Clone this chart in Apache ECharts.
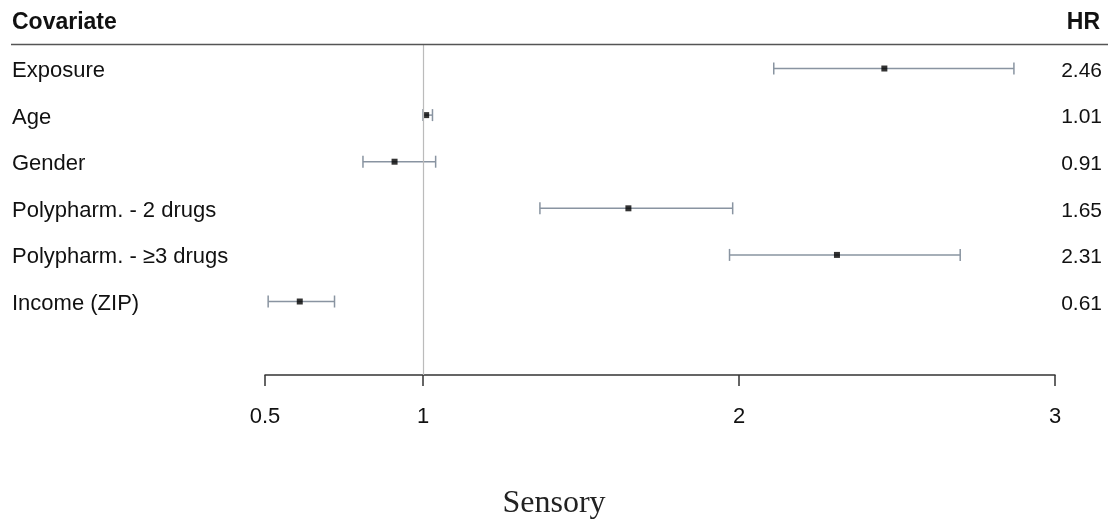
<!DOCTYPE html>
<html>
<head>
<meta charset="utf-8">
<script src="https://cdn.jsdelivr.net/npm/echarts@6/dist/echarts.min.js"></script>
<style>
html,body{margin:0;padding:0;background:#fff;}
#chart{width:1108px;height:519px;}
</style>
</head>
<body>
<div id="chart"></div>
<script>
const covariates = ["Exposure", "Age", "Gender", "Polypharm. - 2 drugs", "Polypharm. - \u22653 drugs", "Income (ZIP)"];
const hr = [2.46, 1.01, 0.91, 1.65, 2.31, 0.61];
const ciLow = [2.11, 1.00, 0.81, 1.37, 1.97, 0.51];
const ciHigh = [2.87, 1.03, 1.04, 1.98, 2.70, 0.72];
const xTicks = [0.5, 1, 2, 3];
const rowIdx = covariates.map((_, i) => i);

const chart = echarts.init(document.getElementById('chart'), null, {renderer: 'canvas'});

const sans = "'Liberation Sans', Arial, sans-serif";

const option = {
  animation: false,
  backgroundColor: '#ffffff',
  title: {
    text: 'Sensory',
    left: 'center',
    top: 483,
    textStyle: {fontFamily: "'Liberation Serif', 'DejaVu Serif', serif", fontSize: 32, fontWeight: 'normal', color: '#222'}
  },
  graphic: [
    {type: 'text', left: 12, top: 11, style: {text: 'Covariate', font: "bold 23px " + sans, fill: '#111'}},
    {type: 'text', right: 8, top: 11, style: {text: 'HR', font: "bold 23px " + sans, fill: '#111'}},
    {type: 'line', shape: {x1: 11, y1: 44.5, x2: 1108, y2: 44.5}, style: {stroke: '#555', lineWidth: 1.5}, z: 10}
  ],
  grid: {left: 265, right: 53, top: 44, bottom: 144},
  xAxis: {
    type: 'value',
    min: 0.5,
    max: 3,
    axisLine: {show: true, onZero: false, lineStyle: {color: '#333', width: 1.5}},
    axisTick: {show: true, length: 11, inside: false, customValues: xTicks, lineStyle: {color: '#333', width: 1.5}},
    axisLabel: {customValues: xTicks, margin: 31, fontFamily: sans, fontSize: 22, color: '#111',
      formatter: v => String(v)},
    splitLine: {show: false}
  },
  yAxis: [
    {
      type: 'value', inverse: true, min: -0.526, max: 6.577, position: 'left',
      axisLine: {show: false}, axisTick: {show: false}, splitLine: {show: false},
      axisLabel: {customValues: rowIdx, align: 'left', margin: 253, fontFamily: sans, fontSize: 22, color: '#111',
        verticalAlign: 'top', lineHeight: 5,
        formatter: v => covariates[Math.round(v)] || ''}
    },
    {
      type: 'value', inverse: true, min: -0.526, max: 6.577, position: 'right',
      axisLine: {show: false}, axisTick: {show: false}, splitLine: {show: false},
      axisLabel: {customValues: rowIdx, align: 'right', margin: 47, fontFamily: sans, fontSize: 21, color: '#111',
        verticalAlign: 'top', lineHeight: 5,
        formatter: v => { const i = Math.round(v); return hr[i] !== undefined ? hr[i].toFixed(2) : ''; }}
    }
  ],
  series: [
    {
      type: 'custom',
      data: rowIdx.map(i => [i, ciLow[i], ciHigh[i]]),
      encode: {x: [1, 2], y: 0},
      renderItem: function (params, api) {
        const i = api.value(0);
        const p1 = api.coord([api.value(1), i]);
        const p2 = api.coord([api.value(2), i]);
        const h = 6;
        const st = {stroke: '#8994a1', lineWidth: 1.5};
        return {
          type: 'group',
          children: [
            {type: 'line', shape: {x1: p1[0], y1: p1[1], x2: p2[0], y2: p2[1]}, style: st},
            {type: 'line', shape: {x1: p1[0], y1: p1[1] - h, x2: p1[0], y2: p1[1] + h}, style: st},
            {type: 'line', shape: {x1: p2[0], y1: p2[1] - h, x2: p2[0], y2: p2[1] + h}, style: st}
          ]
        };
      },
      markLine: {
        silent: true, symbol: 'none', label: {show: false},
        lineStyle: {color: '#bbbbbb', width: 1.2, type: 'solid'},
        data: [{xAxis: 1}]
      },
      z: 2
    },
    {
      type: 'scatter',
      data: rowIdx.map(i => [hr[i], i]),
      symbol: 'rect',
      symbolSize: 6,
      itemStyle: {color: '#000'},
      z: 3
    }
  ]
};
chart.setOption(option);
</script>
</body>
</html>
